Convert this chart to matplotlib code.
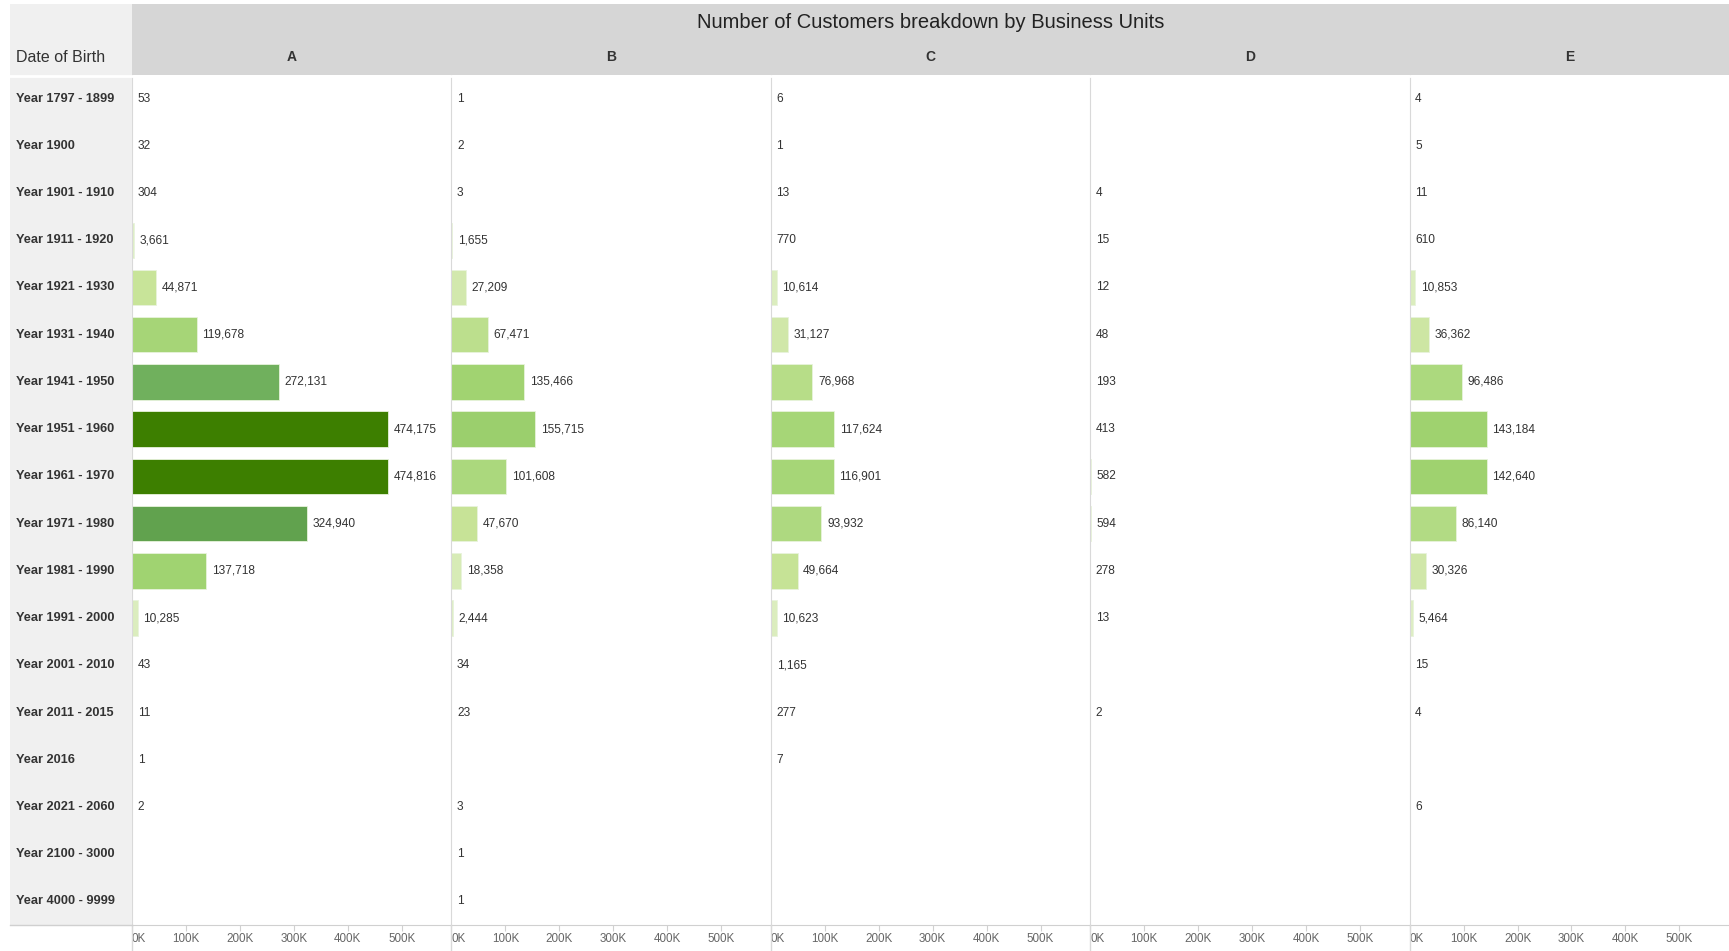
# Customers by date of birth, split by business unit

import matplotlib.pyplot as plt
import numpy as np
from matplotlib.colors import LinearSegmentedColormap
from matplotlib.patches import Rectangle
from matplotlib.lines import Line2D

plt.rcParams['font.family'] = ['Liberation Sans', 'DejaVu Sans']

# Data
birth_groups = ['Year 1797 - 1899', 'Year 1900', 'Year 1901 - 1910', 'Year 1911 - 1920',
                'Year 1921 - 1930', 'Year 1931 - 1940', 'Year 1941 - 1950', 'Year 1951 - 1960',
                'Year 1961 - 1970', 'Year 1971 - 1980', 'Year 1981 - 1990', 'Year 1991 - 2000',
                'Year 2001 - 2010', 'Year 2011 - 2015', 'Year 2016', 'Year 2021 - 2060',
                'Year 2100 - 3000', 'Year 4000 - 9999']
units = ['A', 'B', 'C', 'D', 'E']
unit_a = [53, 32, 304, 3661, 44871, 119678, 272131, 474175, 474816, 324940, 137718,
          10285, 43, 11, 1, 2, None, None]
unit_b = [1, 2, 3, 1655, 27209, 67471, 135466, 155715, 101608, 47670, 18358,
          2444, 34, 23, None, 3, 1, 1]
unit_c = [6, 1, 13, 770, 10614, 31127, 76968, 117624, 116901, 93932, 49664,
          10623, 1165, 277, 7, None, None, None]
unit_d = [None, None, 4, 15, 12, 48, 193, 413, 582, 594, 278,
          13, None, 2, None, None, None, None]
unit_e = [4, 5, 11, 610, 10853, 36362, 96486, 143184, 142640, 86140, 30326,
          5464, 15, 4, None, 6, None, None]
tick_values = [0, 100000, 200000, 300000, 400000, 500000]
tick_labels = ['0K', '100K', '200K', '300K', '400K', '500K']

series = [unit_a, unit_b, unit_c, unit_d, unit_e]
title = 'Number of Customers breakdown by Business Units'

W, H = 1729, 951
fig = plt.figure(figsize=(W / 100, H / 100), dpi=100)
fig.patch.set_facecolor('white')


def fx(px):
    return px / W


def fy(py):
    # py measured from top
    return 1 - py / H


# layout in pixels
label_left = 10
plot_left = 132
plot_right = 1729
head_top = 4
head_bottom = 75
rows_bottom = 925
panel_w = (plot_right - plot_left) / len(units)

# backgrounds
fig.patches.append(Rectangle((fx(label_left), fy(rows_bottom)), fx(plot_left - label_left),
                             fy(head_top) - fy(rows_bottom), transform=fig.transFigure,
                             facecolor='#f0f0f0', edgecolor='none', zorder=0))
fig.patches.append(Rectangle((fx(plot_left), fy(head_bottom)), fx(plot_right - plot_left),
                             fy(head_top) - fy(head_bottom), transform=fig.transFigure,
                             facecolor='#d6d6d6', edgecolor='none', zorder=0))
fig.lines.append(Line2D([fx(label_left), fx(plot_right)], [fy(head_bottom + 1)] * 2,
                        transform=fig.transFigure, color='white', lw=2, zorder=1))

fig.text(fx((plot_left + plot_right) / 2), fy(23), title, ha='center', va='center',
         fontsize=14.5, color='#222222')
fig.text(fx(16), fy(57), 'Date of Birth', ha='left', va='center', fontsize=11.5, color='#333333')

cmap = LinearSegmentedColormap.from_list('tab_green', [
    (0.0, '#e0efc8'), (0.04, '#d6eab4'), (0.1, '#c6e396'), (0.2, '#add97f'),
    (0.3, '#9fd26f'), (0.45, '#86c266'), (0.57, '#70b05d'), (0.68, '#62a350'),
    (1.0, '#3d7f00')])
vmax = max(v for s in series for v in s if v is not None)

n = len(birth_groups)
y = np.arange(n)
row_h = (rows_bottom - head_bottom) / n

# row labels
for i, g in enumerate(birth_groups):
    fig.text(fx(16), fy(head_bottom + row_h * (i + 0.5)), g, ha='left', va='center',
             fontsize=9.2, fontweight='bold', color='#333333')

for k, (unit, vals) in enumerate(zip(units, series)):
    x0 = plot_left + k * panel_w
    ax = fig.add_axes([fx(x0), fy(rows_bottom), fx(panel_w), fy(head_bottom) - fy(rows_bottom)])
    ax.set_facecolor('white')
    ax.set_xlim(0, 592000)
    ax.set_ylim(n - 0.5, -0.5)
    for i, v in enumerate(vals):
        if v is None:
            continue
        ax.barh(i, v, height=0.75, color=cmap(v / vmax), edgecolor='#e8f3dc', linewidth=0.6)
        ax.annotate(f'{v:,}', (v, i), xytext=(4, 0), textcoords='offset points',
                    ha='left', va='center', fontsize=8.6, color='#333333')
    for s in ['top', 'right']:
        ax.spines[s].set_visible(False)
    ax.spines['left'].set_color('#d9d9d9')
    ax.spines['bottom'].set_color('#d0d0d0')
    ax.set_yticks([])
    ax.set_xticks(tick_values)
    ax.set_xticklabels(tick_labels)
    ax.tick_params(axis='x', length=4, color='#d0d0d0', labelsize=8.4, labelcolor='#666666', pad=2)
    ax.get_xticklabels()[0].set_horizontalalignment('left')
    # separator running into the axis label band
    fig.lines.append(Line2D([fx(x0), fx(x0)], [0, fy(rows_bottom)], transform=fig.transFigure,
                            color='#d9d9d9', lw=1))
    fig.text(fx(x0 + panel_w / 2), fy(57), unit, ha='center', va='center', fontsize=10,
             fontweight='bold', color='#333333')

fig.lines.append(Line2D([fx(label_left), fx(plot_left)], [fy(rows_bottom)] * 2,
                        transform=fig.transFigure, color='#d0d0d0', lw=1))

plt.savefig('out.png', dpi=100)
